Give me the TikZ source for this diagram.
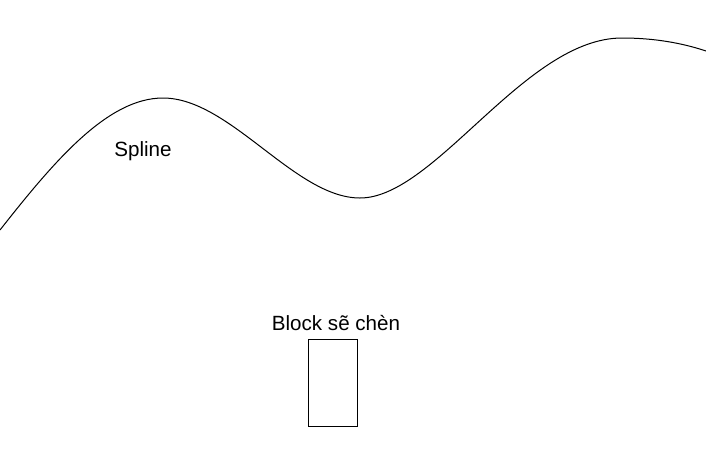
\documentclass[tikz,border=0pt]{standalone}
\usepackage{fontspec}
\setmainfont{Liberation Sans}

\begin{document}
\begin{tikzpicture}[x=0.5pt,y=-0.5pt,line width=0.5pt,font=\fontsize{10.3}{12}\selectfont]
\useasboundingbox (0, 0) rectangle (706, 472);
\draw (0, 230) .. controls (55, 160) and (108, 98) .. (163, 98)
  .. controls (230, 98) and (295, 198) .. (360, 198)
  .. controls (435, 198) and (525, 38) .. (622, 38)
  .. controls (660, 38) and (688, 45) .. (706, 51);
\node (spline) at (143, 151) {Spline};
\node (label) at (336, 323) {Block sẽ chèn};
\draw (308, 339) rectangle (357, 426);
\end{tikzpicture}
\end{document}
